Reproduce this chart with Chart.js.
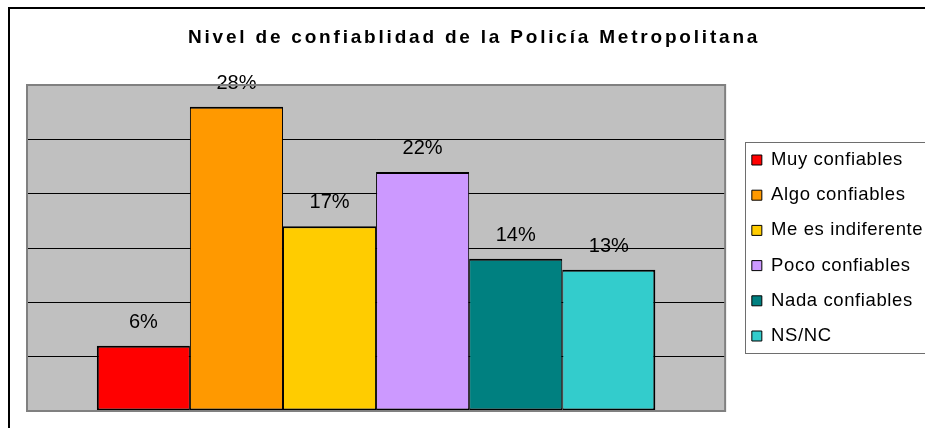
<!DOCTYPE html>
<html>
<head>
<meta charset="utf-8">
<script src="https://cdn.jsdelivr.net/npm/chart.js@4"></script>
<style>
  html, body { margin: 0; padding: 0; background: #ffffff; }
  #wrap { width: 925px; height: 428px; }
</style>
</head>
<body>
<div id="wrap"><canvas id="chart" width="925" height="428"></canvas></div>
<script>
// Survey answers and their share of respondents (%)
const chartTitle = 'Nivel de confiablidad de la Policía Metropolitana';
const categories = ['Muy confiables', 'Algo confiables', 'Me es indiferente', 'Poco confiables', 'Nada confiables', 'NS/NC'];
const percentages = [6, 28, 17, 22, 14, 13];
// Value axis: 0 to 30 in steps of 5 (ticks hidden, gridlines shown)
const axisMin = 0;
const axisMax = 30;
const axisStep = 5;

const barColors = ['#FF0000', '#FF9900', '#FFCC00', '#CC99FF', '#008080', '#33CCCC'];
const FONT = "'Liberation Sans', Arial, Helvetica, sans-serif";
const LEGEND_SPACING = '0.6px';

const datasets = categories.map((name, i) => ({
  label: name,
  data: [percentages[i]],
  backgroundColor: barColors[i],
  borderColor: '#000000',
  borderWidth: { top: 2, bottom: 2, left: i === 0 ? 2 : 1, right: i === categories.length - 1 ? 2 : 1 },
  borderSkipped: false,
  barPercentage: 1.0,
  categoryPercentage: 0.8
}));

// Grey plot background, frame, outer border and the heading
const decorations = {
  id: 'decorations',
  beforeDraw(chart) {
    const { ctx, chartArea: a } = chart;
    ctx.save();
    ctx.fillStyle = '#C0C0C0';
    ctx.fillRect(a.left, a.top, a.right - a.left, a.bottom - a.top);
    ctx.restore();
    // spacing used by the legend text
    ctx.letterSpacing = LEGEND_SPACING;
  },
  beforeDatasetsDraw(chart) {
    chart.ctx.letterSpacing = '0px';
  },
  afterDraw(chart) {
    const { ctx, chartArea: a } = chart;
    ctx.save();
    ctx.letterSpacing = '0px';
    // plot frame
    ctx.strokeStyle = '#808080';
    ctx.lineWidth = 2;
    ctx.strokeRect(a.left, a.top, a.right - a.left, a.bottom - a.top);
    // outer chart border (left and top edges)
    ctx.strokeStyle = '#000000';
    ctx.lineWidth = 2;
    ctx.beginPath();
    ctx.moveTo(9, 430);
    ctx.lineTo(9, 8);
    ctx.lineTo(930, 8);
    ctx.stroke();
    // legend frame
    const boxes = chart.legend.legendHitBoxes;
    if (boxes && boxes.length) {
      const first = boxes[0];
      const last = boxes[boxes.length - 1];
      const top = first.top - 8.5;
      const bottom = last.top + last.height + 8;
      ctx.strokeStyle = '#6e6e6e';
      ctx.lineWidth = 1;
      ctx.strokeRect(745.5, Math.round(top) + 0.5, 200, Math.round(bottom - top));
    }
    // heading
    ctx.fillStyle = '#000000';
    ctx.font = 'bold 19px ' + FONT;
    ctx.letterSpacing = '2.8px';
    ctx.textAlign = 'left';
    ctx.textBaseline = 'alphabetic';
    ctx.fillText(chartTitle, 188, 42.5);
    ctx.restore();
  }
};

// Percentage labels above each bar
const valueLabels = {
  id: 'valueLabels',
  afterDatasetsDraw(chart) {
    const { ctx } = chart;
    ctx.save();
    ctx.letterSpacing = '0px';
    ctx.fillStyle = '#000000';
    ctx.font = '20px ' + FONT;
    ctx.textAlign = 'center';
    ctx.textBaseline = 'alphabetic';
    chart.data.datasets.forEach((ds, i) => {
      const bar = chart.getDatasetMeta(i).data[0];
      if (!bar) return;
      ctx.fillText(ds.data[0] + '%', bar.x, bar.y - 18);
    });
    ctx.restore();
  }
};

const chart = new Chart(document.getElementById('chart'), {
  type: 'bar',
  data: { labels: [''], datasets },
  options: {
    responsive: false,
    animation: false,
    events: [],
    layout: { padding: { left: 27, top: 85, bottom: 17, right: 2 } },
    plugins: {
      title: { display: false },
      tooltip: { enabled: false },
      legend: {
        display: true,
        position: 'right',
        align: 'center',
        maxWidth: 400,
        labels: {
          color: '#000000',
          font: { family: FONT, size: 18.5 },
          boxWidth: 10,
          boxHeight: 10,
          padding: 16.7,
          generateLabels(c) {
            return c.data.datasets.map((ds, i) => ({
              text: ds.label,
              fillStyle: ds.backgroundColor,
              strokeStyle: '#000000',
              lineWidth: 1,
              hidden: false,
              datasetIndex: i
            }));
          }
        }
      }
    },
    scales: {
      x: { display: false },
      y: {
        min: axisMin,
        max: axisMax,
        ticks: { display: false, stepSize: axisStep },
        border: { display: false },
        grid: {
          drawTicks: false,
          lineWidth: 1,
          color: (c) => (c.tick && (c.tick.value === axisMin || c.tick.value === axisMax)) ? 'rgba(0,0,0,0)' : '#000000'
        },
        afterFit(scale) { scale.width = 0; }
      },
      gap: {
        type: 'linear',
        position: 'right',
        display: true,
        ticks: { display: false },
        grid: { display: false, drawTicks: false },
        border: { display: false },
        afterFit(scale) { scale.width = 10; }
      }
    }
  },
  plugins: [decorations, valueLabels]
});

// keep the plot area's right edge at x = 725
const shift = chart.chartArea.right - 725;
if (Math.abs(shift) > 0.5) {
  chart.options.layout.padding.right = Math.max(0, chart.options.layout.padding.right + shift);
  chart.update();
}
</script>
</body>
</html>
